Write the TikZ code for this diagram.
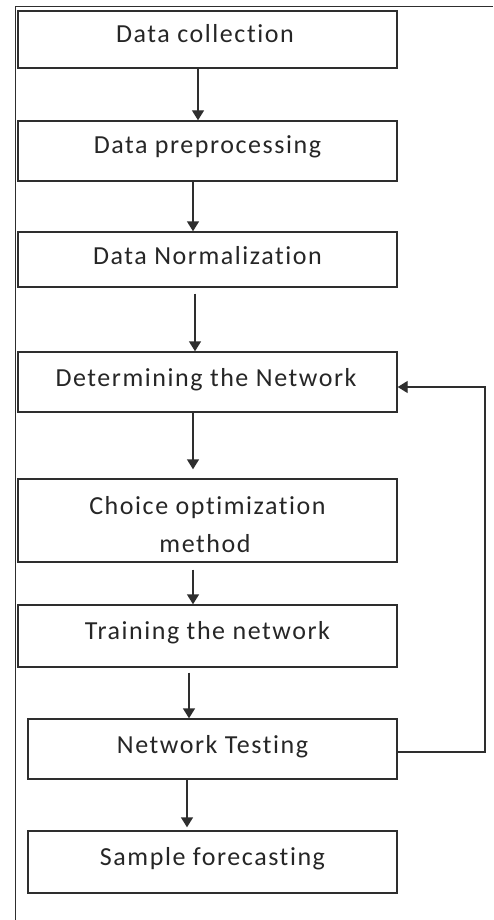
\documentclass[tikz,border=0pt]{standalone}
\usepackage{fontspec}
\setmainfont{Carlito}[LetterSpace=6, Ligatures={NoCommon}]
\usetikzlibrary{arrows.meta}
\definecolor{ink}{HTML}{2E2E2E}
\tikzset{
  stepbox/.style={draw=ink, line width=1.4pt, rectangle, inner sep=0pt, minimum width=379pt},
  narrowbox/.style={stepbox, minimum width=369pt},
  label text/.style={anchor=base, inner sep=0pt, text=black!85, font=\fontsize{26}{38}\selectfont},
  flow/.style={draw=ink, line width=1.4pt, -{Triangle[width=12pt,length=10pt]}},
  frameline/.style={draw=ink, line width=1pt}
}
\begin{document}
\begin{tikzpicture}[x=1pt,y=-1pt]
\useasboundingbox (0,0) rectangle (493,920);
% outer frame (top and left edges only)
\draw[frameline] (15,920) -- (15,7) -- (493,7);

% process boxes
\node[stepbox, minimum height=57pt] (b1) at (207.5,39.5) {};
\node[stepbox, minimum height=60pt] (b2) at (207.5,151) {};
\node[stepbox, minimum height=55pt] (b3) at (207.5,259.5) {};
\node[stepbox, minimum height=60pt] (b4) at (207.5,382) {};
\node[stepbox, minimum height=83pt] (b5) at (207.5,520.5) {};
\node[stepbox, minimum height=62pt] (b6) at (207.5,636) {};
\node[narrowbox, minimum height=60pt] (b7) at (212.5,749) {};
\node[narrowbox, minimum height=62pt] (b8) at (212.5,862) {};

% box captions
\node[label text] (t1) at (205,43) {Data collection};
\node[label text] (t2) at (207.5,154) {Data preprocessing};
\node[label text] (t3) at (207.5,264) {Data Normalization};
\node[label text] (t4) at (206,386) {Determining the Network};
\node[label text] (t5a) at (207.5,514) {Choice optimization};
\node[label text] (t5b) at (205,552) {method};
\node[label text] (t6) at (207.5,639) {Training the network};
\node[label text] (t7) at (212.5,753) {Network Testing};
\node[label text] (t8) at (212.5,865) {Sample forecasting};

% downward flow
\draw[flow] (b1.south -| 198,0) -- (b2.north -| 198,0);
\draw[flow] (b2.south -| 193,0) -- (b3.north -| 193,0);
\draw[flow, shorten <=6pt] (b3.south -| 195,0) -- (b4.north -| 195,0);
\draw[flow, shorten >=9pt] (b4.south -| 193,0) -- (b5.north -| 193,0);
\draw[flow, shorten <=7pt] (b5.south -| 193,0) -- (b6.north -| 193,0);
\draw[flow, shorten <=5pt] (b6.south -| 189,0) -- (b7.north -| 189,0);
\draw[flow, shorten >=3pt] (b7.south -| 187,0) -- (b8.north -| 187,0);

% feedback loop from testing back to network design
\coordinate (loopR) at (485,0);
\draw[flow] ([yshift=-3pt]b7.east) -- ([yshift=-3pt]b7.east -| loopR)
  -- ([yshift=-5pt]b4.east -| loopR) -- ([yshift=-5pt]b4.east);
\end{tikzpicture}
\end{document}
